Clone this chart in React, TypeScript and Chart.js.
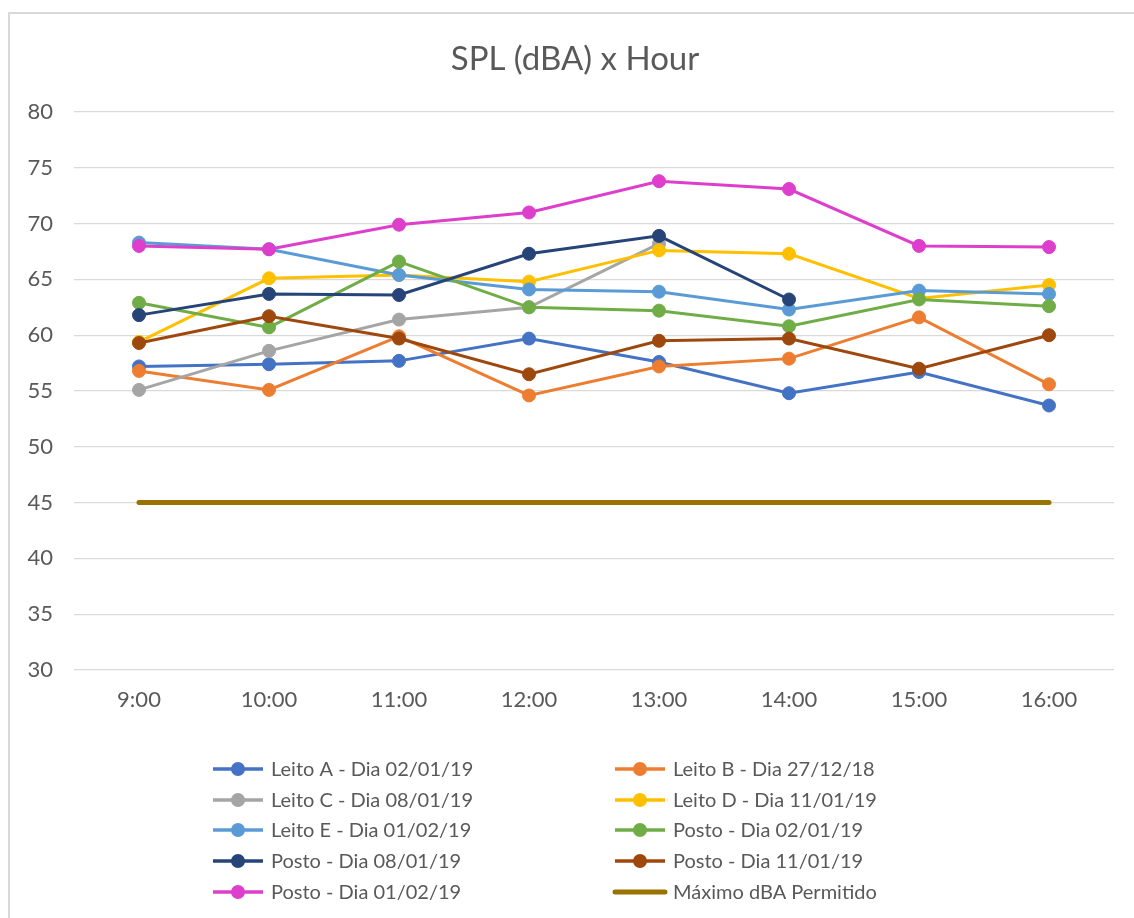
import React, { useEffect, useRef } from "react";
import { Chart, registerables } from "chart.js";

Chart.register(...registerables);

const hours = ["9:00", "10:00", "11:00", "12:00", "13:00", "14:00", "15:00", "16:00"];
const yTicks = [30, 35, 40, 45, 50, 55, 60, 65, 70, 75, 80];

const leitoA = [57.2, 57.4, 57.7, 59.7, 57.6, 54.8, 56.7, 53.7];
const leitoB = [56.8, 55.1, 59.9, 54.6, 57.2, 57.9, 61.6, 55.6];
const leitoC = [55.1, 58.6, 61.4, 62.5, 68.2, null, null, null];
const leitoD = [59.4, 65.1, 65.4, 64.8, 67.6, 67.3, 63.3, 64.5];
const leitoE = [68.3, 67.7, 65.4, 64.1, 63.9, 62.3, 64.0, 63.7];
const posto0201 = [62.9, 60.7, 66.6, 62.5, 62.2, 60.8, 63.2, 62.6];
const posto0801 = [61.8, 63.7, 63.6, 67.3, 68.9, 63.2, null, null];
const posto1101 = [59.3, 61.7, 59.7, 56.5, 59.5, 59.7, 57.0, 60.0];
const posto0102 = [68.0, 67.7, 69.9, 71.0, 73.8, 73.1, 68.0, 67.9];
const maximo = [45, 45, 45, 45, 45, 45, 45, 45];

const seriesNames = [
  "Leito A - Dia 02/01/19",
  "Leito B - Dia 27/12/18",
  "Leito C - Dia 08/01/19",
  "Leito D - Dia 11/01/19",
  "Leito E - Dia 01/02/19",
  "Posto - Dia 02/01/19",
  "Posto - Dia 08/01/19",
  "Posto - Dia 11/01/19",
  "Posto - Dia 01/02/19",
  "Máximo dBA Permitido",
];
const seriesValues = [leitoA, leitoB, leitoC, leitoD, leitoE, posto0201, posto0801, posto1101, posto0102, maximo];
const seriesColors = [
  "#4472C4",
  "#ED7D31",
  "#A5A5A5",
  "#FFC000",
  "#5B9BD5",
  "#70AD47",
  "#264478",
  "#9E480E",
  "#DD3FCC",
  "#997300",
];

const TITLE = "SPL (dBA) x Hour";
const FONT = "Lato";
const TEXT_COLOR = "#595959";

const titleLegendPlugin = {
  id: "titleLegend",
  afterDraw(chart: any) {
    const ctx = chart.ctx as CanvasRenderingContext2D;
    ctx.save();
    // title
    ctx.fillStyle = TEXT_COLOR;
    ctx.font = `33px ${FONT}`;
    ctx.textAlign = "center";
    ctx.textBaseline = "middle";
    ctx.fillText(TITLE, 565, 45);

    // legend (two columns)
    const rowY = [755, 786, 816, 847, 878];
    const colX = [203, 605];
    ctx.font = `20px ${FONT}`;
    ctx.textAlign = "left";
    chart.data.datasets.forEach((ds: any, i: number) => {
      const row = Math.floor(i / 2);
      const col = i % 2;
      const x0 = colX[col];
      const y = rowY[row];
      const isMax = i === seriesNames.length - 1;
      ctx.strokeStyle = ds.borderColor;
      ctx.lineWidth = isMax ? 5 : 3.5;
      ctx.lineCap = isMax ? "round" : "butt";
      ctx.beginPath();
      ctx.moveTo(x0, y);
      ctx.lineTo(x0 + 50, y);
      ctx.stroke();
      if (!isMax) {
        ctx.fillStyle = ds.borderColor;
        ctx.beginPath();
        ctx.arc(x0 + 25, y, 7, 0, Math.PI * 2);
        ctx.fill();
      }
      ctx.fillStyle = TEXT_COLOR;
      ctx.fillText(ds.label, x0 + 58, y + 1);
    });
    ctx.restore();
  },
};

export default function App() {
  const canvasRef = useRef<HTMLCanvasElement | null>(null);

  useEffect(() => {
    document.body.style.overflow = "hidden";
    const canvas = canvasRef.current;
    if (!canvas) return;
    const n = seriesNames.length;
    const datasets = seriesNames.map((name, i) => {
      const isMax = i === n - 1;
      return {
        label: name,
        data: seriesValues[i],
        borderColor: seriesColors[i],
        backgroundColor: seriesColors[i],
        pointBackgroundColor: seriesColors[i],
        pointBorderColor: seriesColors[i],
        borderWidth: isMax ? 5 : 3,
        pointRadius: isMax ? 0 : 6.5,
        pointBorderWidth: 1,
        pointHoverRadius: isMax ? 0 : 6.5,
        tension: 0,
        fill: false,
        spanGaps: false,
        order: n - i,
        borderCapStyle: isMax ? "round" : "butt",
      };
    });

    const chart = new Chart(canvas, {
      type: "line",
      data: { labels: hours, datasets: datasets as any },
      options: {
        responsive: false,
        animation: false,
        devicePixelRatio: 1,
        layout: { padding: { top: 98, left: 0, right: 20, bottom: 198 } },
        plugins: {
          legend: { display: false },
          title: { display: false },
          tooltip: { enabled: false },
        },
        scales: {
          x: {
            offset: true,
            grid: { display: false, drawTicks: false, offset: true },
            border: { display: false },
            ticks: {
              color: TEXT_COLOR,
              font: { family: FONT, size: 22 },
              padding: 17,
              maxRotation: 0,
              autoSkip: false,
            },
            afterFit: (scale: any) => {
              scale.height = 50;
            },
          },
          y: {
            min: 30,
            max: 80,
            afterBuildTicks: (scale: any) => {
              scale.ticks = yTicks.map((v) => ({ value: v }));
            },
            grid: { color: "#d9d9d9", lineWidth: 1.3, drawTicks: false },
            border: { display: false },
            ticks: {
              color: TEXT_COLOR,
              font: { family: FONT, size: 22 },
              padding: 21,
            },
            afterFit: (scale: any) => {
              scale.width = 64;
            },
          },
        },
      },
      plugins: [titleLegendPlugin],
    });
    return () => chart.destroy();
  }, []);

  return (
    <div
      style={{
        position: "absolute",
        left: 8,
        top: 12,
        width: 1126,
        height: 906,
        borderLeft: "2px solid #d9d9d9",
        borderTop: "2px solid #d9d9d9",
        boxSizing: "border-box",
        background: "#fff",
        overflow: "hidden",
      }}
    >
      <canvas ref={canvasRef} width={1124} height={904} style={{ display: "block", width: 1124, height: 904 }} />
    </div>
  );
}
